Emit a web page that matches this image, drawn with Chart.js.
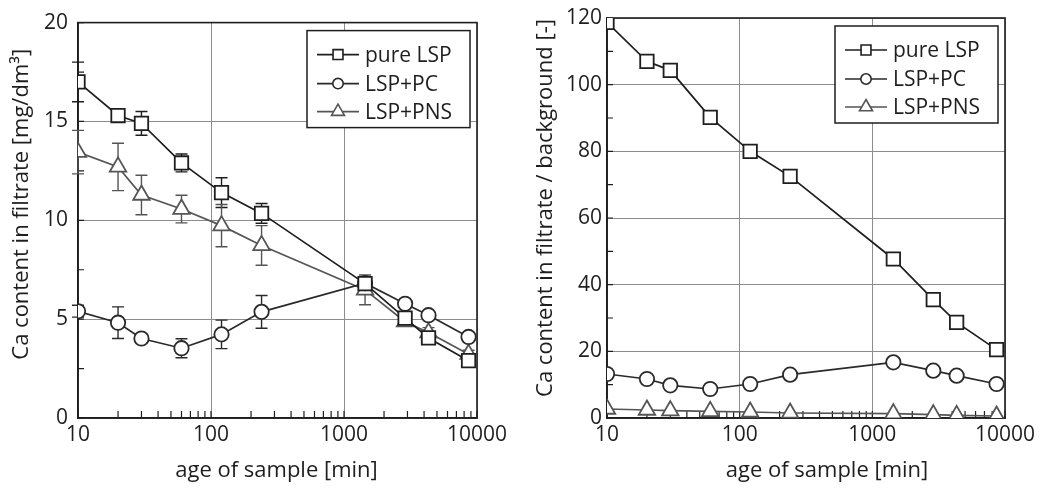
<!DOCTYPE html>
<html><head><meta charset="utf-8">
<script src="https://cdn.jsdelivr.net/npm/chart.js@4.4.1/dist/chart.umd.min.js"></script>
<style>
html,body{margin:0;padding:0;background:#fff;}
#wrap{position:relative;width:1047px;height:488px;overflow:hidden;background:#fff;}
#c1box{position:absolute;left:0;top:0;width:520px;height:488px;}
#c2box{position:absolute;left:520px;top:0;width:527px;height:488px;}
canvas{display:block;}
</style></head><body>
<div id="wrap"><div id="c1box"><canvas id="c1" width="520" height="488"></canvas></div><div id="c2box"><canvas id="c2" width="527" height="488"></canvas></div></div>
<script>
// ---- data ----
const ages = [10, 20, 30, 60, 120, 240, 1440, 2880, 4320, 8640];
const seriesNames = ['pure LSP', 'LSP+PC', 'LSP+PNS'];
const leftLSP = [17.0, 15.3, 14.9, 12.9, 11.4, 10.35, 6.8, 5.05, 4.05, 2.9];
const leftPC  = [5.4, 4.82, 4.02, 3.53, 4.23, 5.37, 6.82, 5.78, 5.2, 4.1];
const leftPNS = [13.45, 12.7, 11.28, 10.57, 9.73, 8.73, 6.48, 4.87, 4.32, 3.23];
const errLSP = [1.0, 0.2, 0.6, 0.45, 0.75, 0.5, 0.15, 0.2, 0.15, 0.15];
const errPC  = [0.3, 0.8, 0.2, 0.48, 0.72, 0.83, 0.15, 0.15, 0.15, 0.15];
const errPNS = [1.1, 1.2, 1.0, 0.7, 1.07, 1.0, 0.75, 0.2, 0.25, 0.2];
const rightLSP = [118.7, 107.0, 104.3, 90.2, 80.0, 72.5, 47.7, 35.5, 28.7, 20.5];
const rightPC  = [13.2, 11.7, 9.8, 8.7, 10.2, 13.0, 16.7, 14.2, 12.7, 10.2];
const rightPNS = [2.7, 2.4, 2.2, 2.0, 1.8, 1.5, 1.3, 1.0, 0.8, 0.6];
const xTickValues = [10, 100, 1000, 10000];
const leftYTicks = [0, 5, 10, 15, 20];
const rightYTicks = [0, 20, 40, 60, 80, 100, 120];
const xTitle = 'age of sample [min]';
const leftYTitle = 'Ca content in filtrate [mg/dm³]';
const rightYTitle = 'Ca content in filtrate / background [-]';

// ---- styles ----
const FONT = "'Open Sans', 'DejaVu Sans', sans-serif";
const TXT = '#1e1e1e';
const styles = [
  {color: '#1e1e1e', pointStyle: 'rect', radius: 9.5, legendRadius: 7},
  {color: '#2a2a2a', pointStyle: 'circle', radius: 7.2, legendRadius: 5.2},
  {color: '#555555', pointStyle: 'triangle', radius: 9.5, legendRadius: 7.5}
];

const minorX = [];
for (let i = 0; i < xTickValues.length - 1; i++) {
  for (let k = 2; k <= 9; k++) minorX.push(xTickValues[i] * k);
}
function midTicks(t) { const r = []; for (let i = 0; i < t.length - 1; i++) r.push((t[i] + t[i + 1]) / 2); return r; }

function makeDecor(yTicks, errors, yTitle, geo) {
  const minorY = midTicks(yTicks);
  return {
    id: 'decor',
    beforeDatasetsDraw(chart) {
      const {ctx, chartArea: a} = chart;
      const x = chart.scales.x, y = chart.scales.y;
      ctx.save();
      ctx.strokeStyle = '#1e1e1e';
      ctx.lineWidth = 1.2;
      ctx.beginPath();
      minorX.concat(xTickValues).forEach(v => {
        const px = x.getPixelForValue(v);
        ctx.moveTo(px, a.bottom); ctx.lineTo(px, a.bottom - 7);
      });
      minorY.concat(yTicks).forEach(v => {
        const py = y.getPixelForValue(v);
        ctx.moveTo(a.left, py); ctx.lineTo(a.left + 6, py);
      });
      ctx.stroke();
      ctx.lineWidth = 1.6;
      ctx.strokeRect(a.left, a.top, a.right - a.left, a.bottom - a.top);
      if (errors) {
        chart.data.datasets.forEach((ds, i) => {
          const errs = errors[i]; if (!errs) return;
          ctx.strokeStyle = ds.borderColor; ctx.lineWidth = 1.4;
          ctx.beginPath();
          ds.data.forEach((pt, j) => {
            const e = errs[j]; if (!e) return;
            const px = x.getPixelForValue(pt.x);
            const y1 = y.getPixelForValue(pt.y + e), y2 = y.getPixelForValue(pt.y - e);
            ctx.moveTo(px, y1); ctx.lineTo(px, y2);
            ctx.moveTo(px - 6, y1); ctx.lineTo(px + 6, y1);
            ctx.moveTo(px - 6, y2); ctx.lineTo(px + 6, y2);
          });
          ctx.stroke();
        });
      }
      ctx.restore();
    },
    afterDatasetsDraw(chart) {
      const {ctx, chartArea: a} = chart;
      const w = 163, h = 97;
      const bx = a.right - 7 - w, by = a.top + 8;
      ctx.save();
      ctx.fillStyle = '#fff';
      ctx.fillRect(bx, by, w, h);
      ctx.strokeStyle = '#1e1e1e'; ctx.lineWidth = 1.5;
      ctx.strokeRect(bx, by, w, h);
      const rows = [24, 53, 81];
      chart.data.datasets.forEach((ds, i) => {
        const st = styles[i];
        const cy = by + rows[i];
        ctx.strokeStyle = st.color; ctx.lineWidth = 1.6;
        ctx.beginPath(); ctx.moveTo(bx + 10, cy); ctx.lineTo(bx + 52, cy); ctx.stroke();
        ctx.fillStyle = '#fff'; ctx.strokeStyle = st.color; ctx.lineWidth = 1.6;
        Chart.helpers.drawPoint(ctx, {pointStyle: st.pointStyle, radius: st.legendRadius, borderWidth: 1.6, rotation: 0}, bx + 31, cy);
        ctx.fillStyle = TXT;
        ctx.font = '21px ' + FONT;
        ctx.textBaseline = 'middle'; ctx.textAlign = 'left';
        ctx.fillText(ds.label, bx + 58, cy + 1);
      });
      ctx.restore();
    },
    afterDraw(chart) {
      const {ctx, chartArea: a} = chart;
      ctx.save();
      ctx.fillStyle = TXT;
      ctx.font = '22px ' + FONT;
      ctx.textAlign = 'center'; ctx.textBaseline = 'middle';
      ctx.fillText(xTitle, (a.left + a.right) / 2 + geo.xTitleDx, a.bottom + 53);
      ctx.translate(geo.yTitleX, (a.top + a.bottom) / 2 + geo.yTitleDy);
      ctx.rotate(-Math.PI / 2);
      ctx.fillText(yTitle, 0, 0);
      ctx.restore();
    }
  };
}

function buildDatasets(arrs) {
  return arrs.map((vals, i) => ({
    label: seriesNames[i],
    data: ages.map((a, j) => ({x: a, y: vals[j]})),
    borderColor: styles[i].color,
    borderWidth: 1.7,
    pointStyle: styles[i].pointStyle,
    pointRadius: styles[i].radius,
    pointBorderWidth: 1.8,
    pointBackgroundColor: '#fff',
    pointBorderColor: styles[i].color,
    fill: false,
    tension: 0
  }));
}

function makeChart(id, arrs, yTicks, yTitle, errors, geo) {
  const ctx = document.getElementById(id);
  return new Chart(ctx, {
    type: 'line',
    data: {datasets: buildDatasets(arrs)},
    plugins: [makeDecor(yTicks, errors, yTitle, geo)],
    options: {
      responsive: false,
      devicePixelRatio: 1,
      animation: false,
      layout: {padding: {left: 0, right: geo.padRight, top: 18, bottom: 0}},
      plugins: {legend: {display: false}, tooltip: {enabled: false}},
      scales: {
        x: {
          type: 'logarithmic', min: xTickValues[0], max: xTickValues[xTickValues.length - 1],
          afterBuildTicks: s => { s.ticks = xTickValues.map(v => ({value: v})); },
          afterFit: s => { s.height = 70; },
          ticks: {callback: v => String(v), color: TXT, font: {family: FONT, size: 21}, padding: 4, maxRotation: 0, autoSkip: false},
          grid: {color: '#8c8c8c', lineWidth: 1, drawTicks: false},
          border: {display: true, color: '#1e1e1e', width: 1.6},
          title: {display: false}
        },
        y: {
          type: 'linear', min: yTicks[0], max: yTicks[yTicks.length - 1],
          afterBuildTicks: s => { s.ticks = yTicks.map(v => ({value: v})); },
          afterFit: s => { s.width = geo.axisWidth; },
          ticks: {color: TXT, font: {family: FONT, size: 21}, padding: geo.tickPad},
          grid: {color: '#8c8c8c', lineWidth: 1, drawTicks: false},
          border: {display: true, color: '#1e1e1e', width: 1.6},
          title: {display: false}
        }
      }
    }
  });
}

makeChart('c1', [leftLSP, leftPC, leftPNS], leftYTicks, leftYTitle, [errLSP, errPC, errPNS],
  {padRight: 43, axisWidth: 78, tickPad: 10, yTitleX: 22, yTitleDy: -16, xTitleDx: -1});
makeChart('c2', [rightLSP, rightPC, rightPNS], rightYTicks, rightYTitle, null,
  {padRight: 42, axisWidth: 87, tickPad: 5, yTitleX: 26, yTitleDy: -10, xTitleDx: 21});
</script>
</body></html>
